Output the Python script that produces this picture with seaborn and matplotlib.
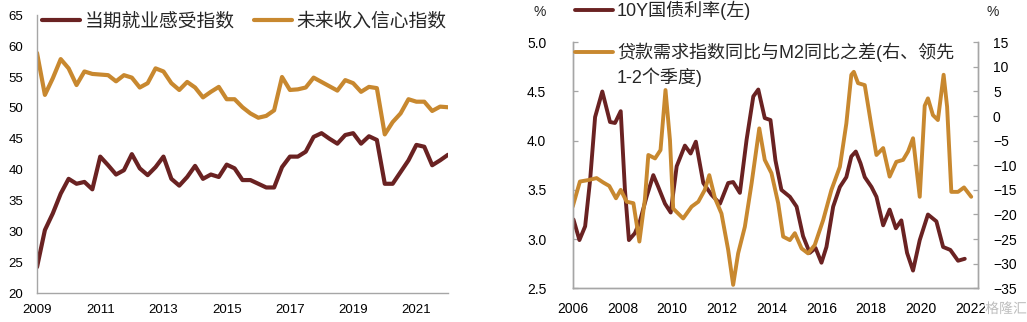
import numpy as np
import matplotlib
matplotlib.use("Agg")
import matplotlib.pyplot as plt
from matplotlib.lines import Line2D
import matplotlib.patheffects as pe
import seaborn as sns

# ---- 城镇储户问卷（季度，2009Q1–2022Q1） ----
quarters = np.arange(2009.0, 2022.01, 0.25)
employment_idx = [
    24.2, 30.2, 32.9, 36.1,
    38.5, 37.7, 38.0, 36.8,
    42.1, 40.7, 39.2, 39.9,
    42.5, 40.2, 39.1, 40.4,
    42.1, 38.5, 37.4, 38.8,
    40.6, 38.5, 39.2, 38.8,
    40.8, 40.2, 38.3, 38.3,
    37.7, 37.1, 37.1, 40.4,
    42.1, 42.1, 42.9, 45.3,
    45.9, 45.0, 44.2, 45.6,
    45.9, 44.2, 45.4, 44.8,
    37.7, 37.7, 39.6, 41.5,
    44.0, 43.7, 40.7, 41.5,
    42.4,
]
income_conf_idx = [
    58.9, 52.1, 54.8, 57.9,
    56.4, 53.7, 55.9, 55.5,
    55.4, 55.3, 54.3, 55.3,
    54.9, 53.3, 54.0, 56.4,
    55.9, 54.0, 52.9, 54.2,
    53.3, 51.7, 52.6, 53.4,
    51.4, 51.4, 50.1, 49.1,
    48.4, 48.7, 49.6, 55.0,
    52.9, 53.0, 53.3, 54.9,
    54.2, 53.5, 52.8, 54.5,
    54.0, 52.6, 53.4, 53.2,
    45.7, 47.7, 49.1, 51.4,
    51.0, 51.0, 49.5, 50.2,
    50.1,
]

# ---- 10Y国债利率（%） ----
bond_t = [
    2006.03, 2006.27, 2006.50, 2006.70, 2006.90, 2007.19, 2007.50, 2007.70,
    2007.93, 2008.10, 2008.26, 2008.50, 2008.70, 2008.97, 2009.24, 2009.44,
    2009.71, 2009.94, 2010.18, 2010.51, 2010.74, 2010.95, 2011.25, 2011.58,
    2011.92, 2012.25, 2012.45, 2012.72, 2012.99, 2013.26, 2013.46, 2013.72,
    2013.95, 2014.15, 2014.39, 2014.73, 2015.00, 2015.26, 2015.53, 2015.76,
    2016.00, 2016.20, 2016.47, 2016.74, 2017.00, 2017.20, 2017.38, 2017.57,
    2017.74, 2018.01, 2018.21, 2018.48, 2018.74, 2018.99, 2019.21, 2019.44,
    2019.68, 2019.95, 2020.28, 2020.62, 2020.89, 2021.18, 2021.49, 2021.76,
]
bond_yield = [
    3.20, 2.99, 3.13, 3.60, 4.24, 4.50, 4.19, 4.18,
    4.30, 3.50, 2.99, 3.06, 3.18, 3.43, 3.65, 3.53,
    3.36, 3.27, 3.74, 3.95, 3.87, 3.99, 3.57, 3.45,
    3.36, 3.57, 3.58, 3.47, 4.01, 4.45, 4.52, 4.23,
    4.21, 3.80, 3.50, 3.43, 3.33, 3.03, 2.86, 2.91,
    2.76, 2.92, 3.33, 3.53, 3.63, 3.84, 3.89, 3.77,
    3.63, 3.53, 3.43, 3.14, 3.30, 3.11, 3.19, 2.86,
    2.68, 2.99, 3.25, 3.18, 2.92, 2.89, 2.78, 2.80,
]

# ---- 贷款需求指数同比与M2同比之差（%） ----
gap_t = [
    2006.00, 2006.29, 2006.63, 2006.96, 2007.23, 2007.47, 2007.74, 2007.93,
    2008.17, 2008.44, 2008.68, 2008.90, 2009.04, 2009.31, 2009.53, 2009.73,
    2009.91, 2010.04, 2010.44, 2010.78, 2011.05, 2011.31, 2011.49, 2011.72,
    2011.98, 2012.25, 2012.45, 2012.65, 2012.92, 2013.19, 2013.50, 2013.72,
    2013.99, 2014.26, 2014.46, 2014.73, 2014.93, 2015.20, 2015.46, 2015.73,
    2016.07, 2016.40, 2016.74, 2017.00, 2017.20, 2017.30, 2017.47, 2017.74,
    2018.01, 2018.21, 2018.48, 2018.74, 2019.01, 2019.28, 2019.48, 2019.68,
    2019.95, 2020.15, 2020.28, 2020.48, 2020.68, 2020.91, 2021.05, 2021.22,
    2021.49, 2021.73, 2022.02,
]
gap_val = [
    -18.4, -13.3, -13.0, -12.6, -13.5, -14.2, -16.7, -15.0,
    -17.4, -17.7, -25.5, -17.0, -7.9, -8.6, -6.9, 5.3,
    -4.9, -18.8, -20.8, -18.4, -17.4, -15.0, -12.0, -16.7,
    -19.8, -27.2, -34.3, -27.9, -22.5, -13.7, -2.5, -8.9,
    -11.6, -17.7, -24.5, -25.2, -23.8, -26.9, -27.9, -26.2,
    -21.1, -15.0, -10.3, -1.5, 8.4, 9.0, 6.7, 6.3,
    -2.1, -7.9, -6.5, -12.3, -9.3, -8.9, -7.2, -4.5,
    -16.4, 2.1, 3.6, 0.2, -0.8, 8.4, 1.9, -15.4,
    -15.4, -14.5, -16.4,
]

left_yticks = list(range(20, 66, 5))
left_xticks = list(range(2009, 2022, 2))
right_xticks = list(range(2006, 2023, 2))
bond_ticks = [2.5, 3.0, 3.5, 4.0, 4.5, 5.0]
gap_ticks = list(range(-35, 16, 5))

BROWN = "#6A2222"
GOLD = "#C8882F"
SPINE = "#A6A6A6"
W, H = 1027, 322

sns.set_theme(style="white")
plt.rcParams["font.family"] = ["Liberation Sans", "Noto Sans CJK SC"]
plt.rcParams["axes.unicode_minus"] = True

fig = plt.figure(figsize=(W / 100, H / 100), dpi=100)


def frac_box(x0, y0, x1, y1):
    """pixel box (top-left origin) -> figure-fraction rect"""
    return [x0 / W, 1 - y1 / H, (x1 - x0) / W, (y1 - y0) / H]


def style_axis(ax, sides):
    for s in ["left", "right", "top", "bottom"]:
        ax.spines[s].set_visible(s in sides)
        ax.spines[s].set_color(SPINE)
        ax.spines[s].set_linewidth(1.0)
    ax.tick_params(direction="in", length=3.5, width=0.9, color=SPINE,
                   labelcolor="black")


# ================= 左图 =================
axL = fig.add_axes(frac_box(37, 15.3, 448, 293))
sns.lineplot(x=quarters, y=employment_idx, ax=axL, color=BROWN, lw=3.0,
             label="当期就业感受指数")
sns.lineplot(x=quarters, y=income_conf_idx, ax=axL, color=GOLD, lw=3.0,
             label="未来收入信心指数")
axL.set_xlim(2009, 2022)
axL.set_ylim(20, 65)
axL.set_xticks(left_xticks)
axL.set_xticklabels([str(v) for v in left_xticks])
axL.set_yticks(left_yticks)
axL.set_yticklabels([str(v) for v in left_yticks])
style_axis(axL, ["left", "bottom"])
axL.tick_params(axis="x", labelsize=9.5, pad=8)
axL.tick_params(axis="y", labelsize=9.5, pad=10)
axL.set_xlabel("")
axL.set_ylabel("")
axL.grid(False)
axL.legend(ncol=2, loc="upper left", bbox_to_anchor=(-0.005, 1.035),
           frameon=False, fontsize=13.5, handlelength=2.0,
           handletextpad=0.25, columnspacing=1.05, borderaxespad=0.0)
for h in axL.get_legend().get_lines():
    h.set_linewidth(3.0)

# ================= 右图 =================
axR = fig.add_axes(frac_box(572.7, 42.3, 977.7, 288.3))
axR2 = axR.twinx()
sns.lineplot(x=bond_t, y=bond_yield, ax=axR, color=BROWN, lw=2.8,
             legend=False)
sns.lineplot(x=gap_t, y=gap_val, ax=axR2, color=GOLD, lw=2.8, legend=False)
axR.set_xlim(2006, 2022.28)
axR.set_ylim(2.5, 5.0)
axR2.set_ylim(-35, 15)
axR.set_xticks(right_xticks)
axR.set_xticklabels([str(v) for v in right_xticks])
axR.set_yticks(bond_ticks)
axR.set_yticklabels([f"{v:.1f}" for v in bond_ticks])
axR2.set_yticks(gap_ticks)
style_axis(axR, ["left", "bottom", "right"])
style_axis(axR2, ["left", "bottom", "right"])
axR.tick_params(axis="x", labelsize=10, pad=10)
axR.tick_params(axis="y", labelsize=10, pad=19)
axR2.tick_params(axis="y", labelsize=10, pad=11)
for a in (axR, axR2):
    a.set_xlabel("")
    a.set_ylabel("")
    a.grid(False)

# 单位
fig.text(540 / W, 1 - 12 / H, "%", ha="center", va="center", fontsize=10)
fig.text(993 / W, 1 - 12 / H, "%", ha="center", va="center", fontsize=10)

# 右图图例
fig.add_artist(Line2D([575 / W, 613 / W], [1 - 10 / H] * 2,
                      color=BROWN, lw=2.8, transform=fig.transFigure))
fig.text(617 / W, 1 - 10 / H, "10Y国债利率(左)", ha="left", va="center",
         fontsize=13)
fig.add_artist(Line2D([575 / W, 613 / W], [1 - 51.7 / H] * 2,
                      color=GOLD, lw=2.8, transform=fig.transFigure))
fig.text(617 / W, 1 - 64.8 / H, "贷款需求指数同比与M2同比之差(右、领先\n1-2个季度)",
         ha="left", va="center", fontsize=13, linespacing=1.3)

# 水印
fig.text(1006 / W, 1 - 309 / H, "格隆汇", ha="center", va="center",
         fontsize=10, color="#BDBDBD",
         family=["Noto Sans CJK SC"],
         path_effects=[pe.withStroke(linewidth=2.5, foreground="white")])

fig.savefig("out.png", dpi=100)
